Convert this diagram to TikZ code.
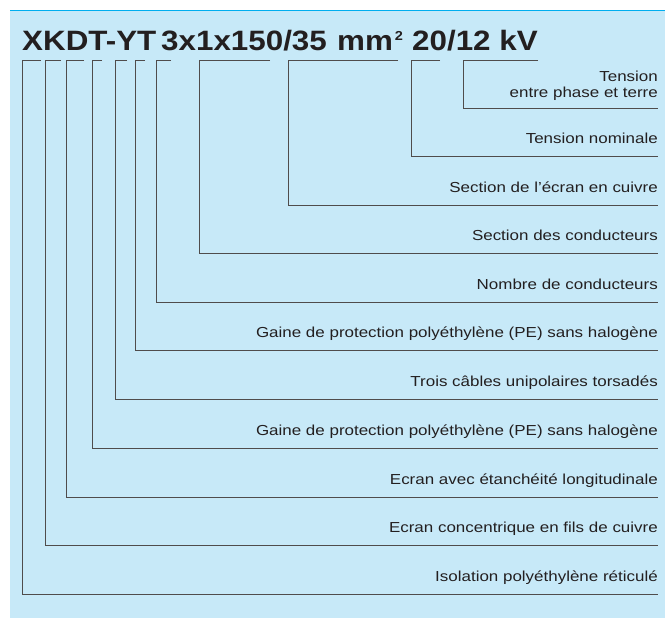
\documentclass[tikz,border=0pt]{standalone}
\usepackage{fontspec}
\setmainfont{Liberation Sans}
\newfontfamily\lblfont[FakeStretch=1.17]{Liberation Sans}
\newfontfamily\ttlfont[FakeStretch=1.12]{Liberation Sans}
\usetikzlibrary{positioning}
\definecolor{cablebg}{RGB}{199,233,248}
\definecolor{cablerule}{RGB}{0,174,239}
\definecolor{cableink}{RGB}{35,31,32}

\begin{document}
\begin{tikzpicture}[x=1pt,y=-1pt,
    lbl/.style={font=\lblfont\fontsize{14.5}{16}\selectfont, text=cableink, inner sep=0pt, anchor=base east, yshift=13pt},
    ttl/.style={font=\ttlfont\fontsize{28}{30}\selectfont\bfseries, text=cableink, inner sep=0pt, anchor=base west},
    lead/.style={cableink!80, line width=0.9pt}
]
\useasboundingbox (0,0) rectangle (665,618);
\fill[cablebg] (10,10) rectangle (665,618);
\draw[cablerule, line width=1.5pt] (10,10.5) -- (665,10.5);

% Designation
\node[ttl] (code) at (22,51) {XKDT-YT};
\node[ttl] (sect) at (161,51) {3x1x150/35};
\node[ttl] (unit) at (337,51) {mm\kern2pt\raisebox{10.5pt}{\fontsize{13}{13}\selectfont 2}};
\node[ttl] (volt) at (412,51) {20/12 kV};

% Bracket tops under the designation
\coordinate (b1) at (22,60);    \coordinate (b1e) at (41,60);
\coordinate (b2) at (45,60);    \coordinate (b2e) at (61,60);
\coordinate (b3) at (66.5,60);  \coordinate (b3e) at (84,60);
\coordinate (b4) at (92,60);    \coordinate (b4e) at (102,60);
\coordinate (b5) at (115,60);   \coordinate (b5e) at (127,60);
\coordinate (b6) at (135,60);   \coordinate (b6e) at (145,60);
\coordinate (b7) at (156,60);   \coordinate (b7e) at (171,60);
\coordinate (b8) at (199.5,60); \coordinate (b8e) at (270,60);
\coordinate (b9) at (288,60);   \coordinate (b9e) at (398,60);
\coordinate (b10) at (411,60);  \coordinate (b10e) at (440,60);
\coordinate (b11) at (463,60);  \coordinate (b11e) at (538,60);

% Line ends on the right
\coordinate (e11) at (658,108);
\coordinate (e10) at (658,156);
\coordinate (e9) at (658,205);
\coordinate (e8) at (658,253);
\coordinate (e7) at (658,302);
\coordinate (e6) at (658,350);
\coordinate (e5) at (658,399);
\coordinate (e4) at (658,448);
\coordinate (e3) at (658,497);
\coordinate (e2) at (658,545);
\coordinate (e1) at (658,594);

% Labels
\node[lbl, align=right, yshift=-3pt] (phase) at (e11) {Tension\\entre phase et terre};
\node[lbl] (nomi) at (e10) {Tension nominale};
\node[lbl] (ecran) at (e9) {Section de l’écran en cuivre};
\node[lbl] (cond) at (e8) {Section des conducteurs};
\node[lbl] (nomb) at (e7) {Nombre de conducteurs};
\node[lbl] (gaine) at (e6) {Gaine de protection polyéthylène (PE) sans halogène};
\node[lbl] (trois) at (e5) {Trois câbles unipolaires torsadés};
\node[lbl] (gaineb) at (e4) {Gaine de protection polyéthylène (PE) sans halogène};
\node[lbl] (etan) at (e3) {Ecran avec étanchéité longitudinale};
\node[lbl] (conc) at (e2) {Ecran concentrique en fils de cuivre};
\node[lbl] (isol) at (e1) {Isolation polyéthylène réticulé};

% Leaders
\draw[lead] (b1e) -- (b1) |- (e1);
\draw[lead] (b2e) -- (b2) |- (e2);
\draw[lead] (b3e) -- (b3) |- (e3);
\draw[lead] (b4e) -- (b4) |- (e4);
\draw[lead] (b5e) -- (b5) |- (e5);
\draw[lead] (b6e) -- (b6) |- (e6);
\draw[lead] (b7e) -- (b7) |- (e7);
\draw[lead] (b8e) -- (b8) |- (e8);
\draw[lead] (b9e) -- (b9) |- (e9);
\draw[lead] (b10e) -- (b10) |- (e10);
\draw[lead] (b11e) -- (b11) |- (e11);
\end{tikzpicture}
\end{document}
